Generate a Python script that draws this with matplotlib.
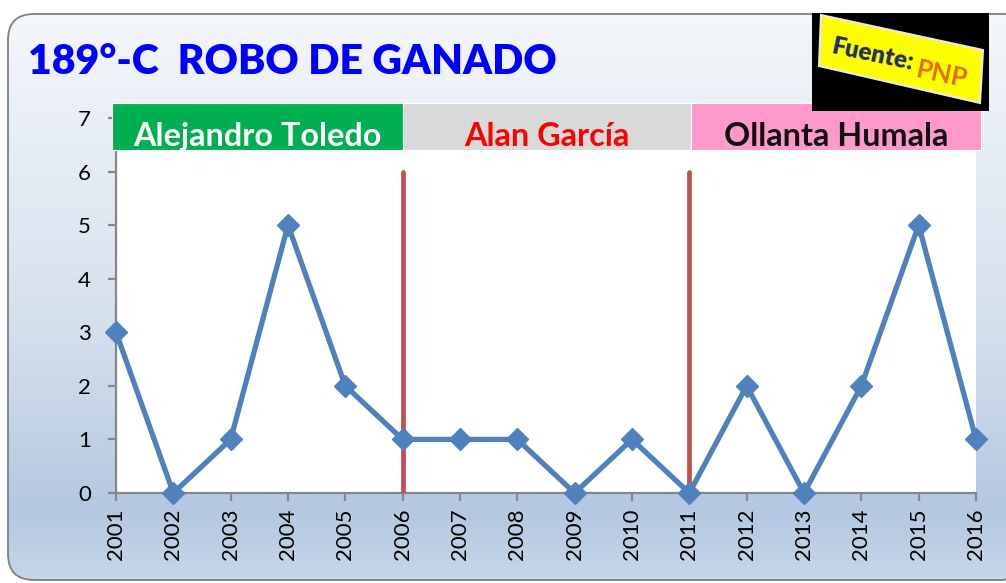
import numpy as np
import matplotlib
matplotlib.use("Agg")
import matplotlib.pyplot as plt
from matplotlib.patches import FancyBboxPatch, Rectangle, Polygon
from matplotlib.colors import LinearSegmentedColormap

# ---------------- data ----------------
years = [2001, 2002, 2003, 2004, 2005, 2006, 2007, 2008,
         2009, 2010, 2011, 2012, 2013, 2014, 2015, 2016]
values = [3, 0, 1, 5, 2, 1, 1, 1, 0, 1, 0, 2, 0, 2, 5, 1]
y_ticks = [0, 1, 2, 3, 4, 5, 6, 7]
title = "189°-C  ROBO DE GANADO"
governments = ["Alejandro Toledo", "Alan García", "Ollanta Humala"]
gov_start = [2000.93, 2006.0, 2011.03]
gov_end = [2006.0, 2011.03, 2016.09]
gov_bg = ["#00b050", "#d9d9d9", "#ff99cc"]
gov_fg = ["#ffffff", "#ff0000", "#111111"]
term_changes = [2006, 2011]
source_label = "Fuente:"
source_value = "PNP"

W, H = 1006, 583
fig = plt.figure(figsize=(W / 100, H / 100), dpi=100)
fig.patch.set_facecolor("white")

# ------------- background frame -------------
bg = fig.add_axes([0, 0, 1, 1], zorder=0)
bg.set_xlim(0, W)
bg.set_ylim(H, 0)
bg.axis("off")
fx, fy, fw, fh = 8, 14, 1022, 566
frame = FancyBboxPatch((fx, fy), fw, fh, boxstyle="round,pad=0,rounding_size=26",
                       facecolor="none", edgecolor="#7f7f7f", linewidth=1.3, zorder=3,
                       clip_on=False)
bg.add_patch(frame)
cmap = LinearSegmentedColormap.from_list(
    "g", [(0, "#f4f7fb"), (0.55, "#d5e0ee"), (0.88, "#b4c8e2"), (1.0, "#c6d6ea")])
grad = np.linspace(0, 1, 256).reshape(-1, 1)
im = bg.imshow(grad, cmap=cmap, extent=[fx, fx + fw, fy + fh, fy], aspect="auto", zorder=1)
clip = FancyBboxPatch((fx, fy), fw, fh, boxstyle="round,pad=0,rounding_size=26",
                      transform=bg.transData, facecolor="none", edgecolor="none")
bg.add_patch(clip)
im.set_clip_path(clip)
bg.set_xlim(0, W)
bg.set_ylim(H, 0)
bg.text(28, 62, title, color="#0000ff", fontsize=29.5, fontweight="heavy",
        family="Lato", va="center", ha="left")

# ------------- main axes -------------
ax = fig.add_axes([116 / W, 1 - 493 / H, 860 / W, 375 / H], zorder=2)
ax.set_facecolor("white")
ax.set_xlim(years[0], years[-1])
ax.set_ylim(0, 7)
for s in ["top", "right"]:
    ax.spines[s].set_visible(False)
for s in ["left", "bottom"]:
    ax.spines[s].set_color("#868686")
    ax.spines[s].set_linewidth(1.6)
ax.set_yticks(y_ticks)
ax.set_xticks(years)
ax.set_xticklabels([str(y) for y in years], rotation=90)
ax.tick_params(axis="both", colors="#868686", labelcolor="black", length=6, width=1.6,
               labelsize=16)
ax.tick_params(axis="y", pad=12)
ax.tick_params(axis="x", pad=5)
for lab in ax.get_xticklabels() + ax.get_yticklabels():
    lab.set_family("Lato")

for x in term_changes:
    ax.plot([x, x], [0, 6], color="#c0504d", linewidth=3.4, solid_capstyle="round", zorder=3)

ax.plot(years, values, color="#4f81bd", linewidth=3.8, marker="D", markersize=11,
        markerfacecolor="#4f81bd", markeredgecolor="#4f81bd", clip_on=False, zorder=4)

# government bands
for name, x0, x1, c, fc in zip(governments, gov_start, gov_end, gov_bg, gov_fg):
    ax.add_patch(Rectangle((x0, 6.40), x1 - x0, 0.88, facecolor=c, edgecolor="white",
                           linewidth=0.8, clip_on=False, zorder=5))
    ax.text((x0 + x1) / 2, 6.48, name, color=fc, fontsize=23.3, fontweight="bold",
            family="Lato", ha="center", va="baseline", clip_on=False, zorder=6)

# ------------- source box -------------
ov = fig.add_axes([0, 0, 1, 1], zorder=5)
ov.set_xlim(0, W)
ov.set_ylim(H, 0)
ov.axis("off")
ov.add_patch(Rectangle((812, 13), 177, 98, facecolor="black", edgecolor="none"))
ov.add_patch(Polygon([(821, 15), (983, 50), (980, 103), (819, 66)], closed=True,
                     facecolor="#ffff00", edgecolor="#e8e8f0", linewidth=1.5))
ov.text(872, 55, source_label, color="#1f2d6b", fontsize=17.5, fontweight="heavy",
        family="Lato", rotation=-12, ha="center", va="center", rotation_mode="anchor")
ov.text(942, 75, source_value, color="#e46c0a", fontsize=18.5, fontweight="bold",
        family="Lato", rotation=-12, ha="center", va="center", rotation_mode="anchor")

fig.savefig("out.png", dpi=100)
